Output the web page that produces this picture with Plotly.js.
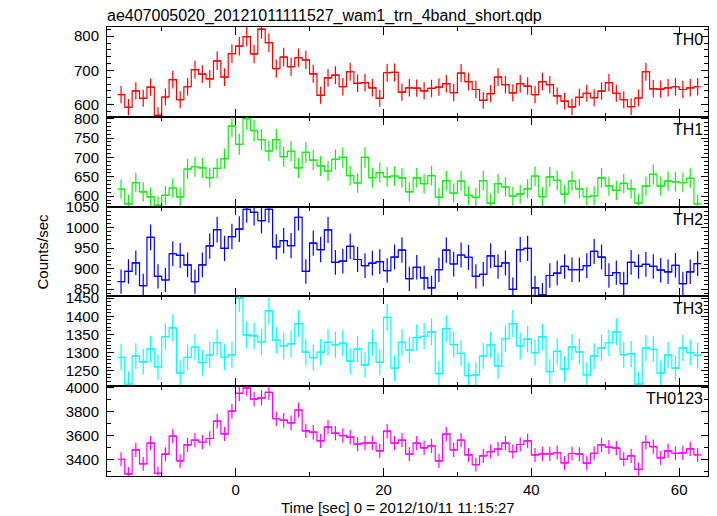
<!DOCTYPE html>
<html><head><meta charset="utf-8">
<script src="https://cdn.plot.ly/plotly-3.0.1.min.js"></script>
<style>html,body{margin:0;padding:0;background:#fff}#chart{width:717px;height:516px}</style>
</head><body><div id="chart"></div>
<script>
// bin centres (seconds, 1-s bins)
const timeSec = [-15.5,-14.5,-13.5,-12.5,-11.5,-10.5,-9.5,-8.5,-7.5,-6.5,-5.5,-4.5,-3.5,-2.5,-1.5,-0.5,
  0.5,1.5,2.5,3.5,4.5,5.5,6.5,7.5,8.5,9.5,10.5,11.5,12.5,13.5,14.5,15.5,16.5,17.5,18.5,19.5,20.5,21.5,
  22.5,23.5,24.5,25.5,26.5,27.5,28.5,29.5,30.5,31.5,32.5,33.5,34.5,35.5,36.5,37.5,38.5,39.5,40.5,41.5,
  42.5,43.5,44.5,45.5,46.5,47.5,48.5,49.5,50.5,51.5,52.5,53.5,54.5,55.5,56.5,57.5,58.5,59.5,60.5,61.5,62.5];

const th0 = [629,592,640,618,651,568,622,673,614,652,702,689,675,728,680,749,
  771,799,748,821,781,705,739,711,737,731,690,627,678,686,652,696,662,664,649,618,693,694,
  636,649,648,640,647,651,661,635,692,667,644,612,632,680,658,634,661,654,629,667,658,625,610,593,621,633,620,639,664,633,614,594,619,696,646,645,649,652,644,649,652];
const th1 = [618,580,635,611,598,576,602,621,598,670,676,673,648,672,697,781,
  734,800,769,746,717,746,702,716,673,713,693,678,665,695,700,653,634,700,648,661,650,652,
  647,611,647,632,653,597,640,608,639,602,597,640,582,632,624,600,605,619,652,599,650,641,605,639,619,599,601,647,626,615,633,619,582,626,656,626,639,637,635,646,580];
const th2 = [868,893,914,858,976,881,872,936,932,909,868,909,955,995,949,978,
  996,1044,1037,1017,1044,953,968,956,1025,893,962,946,994,915,918,954,922,907,913,917,895,928,
  945,875,903,877,853,897,945,911,933,927,881,886,931,905,914,849,946,949,853,836,883,889,905,897,897,907,942,928,883,890,863,915,905,910,905,896,892,908,863,892,912];
const th3 = [1287,1213,1290,1274,1310,1260,1344,1368,1243,1287,1315,1272,1293,1327,1287,1294,
  1450,1349,1346,1329,1415,1334,1318,1324,1380,1301,1286,1301,1328,1321,1326,1276,1310,1266,1327,1273,1397,1257,
  1328,1307,1341,1345,1357,1242,1366,1322,1298,1236,1238,1291,1321,1263,1338,1380,1318,1337,1300,1343,1247,1303,1254,1315,1302,1238,1290,1313,1327,1357,1294,1296,1213,1312,1309,1243,1293,1257,1313,1300,1292];
const th0123 = [3401,3278,3479,3362,3535,3284,3443,3594,3387,3521,3560,3543,3574,3719,3613,3803,
  3951,3995,3903,3914,3959,3739,3727,3705,3811,3638,3627,3555,3669,3619,3599,3585,3527,3535,3538,3471,3635,3535,
  3560,3443,3535,3496,3513,3387,3610,3479,3560,3437,3356,3429,3465,3485,3535,3465,3524,3555,3437,3446,3446,3457,3370,3449,3443,3368,3451,3521,3502,3493,3401,3429,3317,3541,3507,3412,3471,3451,3454,3488,3437];

const bandNames = ['TH0','TH1','TH2','TH3','TH0123'];
const bandSeries = [th0, th1, th2, th3, th0123];

// styling / axis config
const bandColors = ['#ff0000','#11ee11','#0000ff','#00ffff','#ff00ff'];
const yRanges = [[564,827],[573,805],[832,1051],[1207,1455],[3261,4011]];
const yDticks = [100,50,50,50,200];
const yMinor = [20,10,10,10,100];

const FONT = 'Liberation Sans, Arial, Helvetica, sans-serif';
const traces = [];
const layout = {
  width: 717, height: 516,
  margin: {l: 107, r: 9, t: 27, b: 40},
  paper_bgcolor: '#fff', plot_bgcolor: '#fff',
  showlegend: false,
  font: {family: FONT, size: 15, color: '#000'},
  title: {text: 'ae407005020_20121011111527_wam1_trn_4band_short.qdp',
          x: 0, xref: 'paper', xanchor: 'left', y: 1 - 15/516, yref: 'container', yanchor: 'middle',
          font: {family: FONT, size: 16, color: '#000'}},
  annotations: []
};

for (let i = 0; i < 5; i++) {
  const k = i + 1;
  const xa = k === 1 ? 'x' : 'x' + k;
  const ya = k === 1 ? 'y' : 'y' + k;
  traces.push({
    x: timeSec, y: bandSeries[i], xaxis: xa, yaxis: ya,
    type: 'scatter', mode: 'lines', name: bandNames[i],
    line: {shape: 'hvh', color: bandColors[i], width: 1.2},
    error_y: {type: 'sqrt', color: bandColors[i], thickness: 1.2, width: 0},
    error_x: {type: 'constant', value: 0.5, color: bandColors[i], thickness: 1.2, width: 0},
    hoverinfo: 'x+y'
  });
  const top = 1 - i * 0.2, bot = 1 - (i + 1) * 0.2;
  layout[k === 1 ? 'xaxis' : 'xaxis' + k] = {
    domain: [0, 1], anchor: ya, range: [-17.4, 63.9],
    tick0: 0, dtick: 20, ticks: 'inside', ticklen: 8, tickcolor: '#000', tickwidth: 1,
    minor: {dtick: 10, ticks: 'inside', ticklen: 4, tickcolor: '#000'},
    showline: true, linecolor: '#000', linewidth: 1, mirror: 'ticks',
    showgrid: false, zeroline: false,
    showticklabels: k === 5,
    tickfont: {family: FONT, size: 15, color: '#000'},
    matches: k === 1 ? undefined : 'x'
  };
  layout[k === 1 ? 'yaxis' : 'yaxis' + k] = {
    domain: [bot, top], anchor: xa, range: yRanges[i],
    tick0: 0, dtick: yDticks[i], ticks: 'inside', ticklen: 7, tickcolor: '#000', tickwidth: 1,
    minor: {dtick: yMinor[i], ticks: 'inside', ticklen: 4, tickcolor: '#000'},
    showline: true, linecolor: '#000', linewidth: 1, mirror: 'ticks',
    showgrid: false, zeroline: false, ticklabelstandoff: 4,
    tickfont: {family: FONT, size: 15, color: '#000'}
  };
  layout.annotations.push({
    text: bandNames[i], xref: 'paper', yref: 'paper', x: 1, y: top,
    xanchor: 'right', yanchor: 'top', xshift: -3, yshift: -2, showarrow: false,
    font: {family: FONT, size: 16, color: '#000'}
  });
}
layout.annotations.push({
  text: 'Counts/sec', xref: 'paper', yref: 'paper', x: (42 - 107) / 601, y: 0.5,
  xanchor: 'center', yanchor: 'middle', textangle: -90, showarrow: false,
  font: {family: FONT, size: 15, color: '#000'}
});
layout.annotations.push({
  text: 'Time [sec] 0 = 2012/10/11 11:15:27', xref: 'paper', yref: 'paper',
  x: (398 - 107) / 601, y: (476 - 507) / 449, xanchor: 'center', yanchor: 'middle', showarrow: false,
  font: {family: FONT, size: 15, color: '#000'}
});

Plotly.newPlot('chart', traces, layout, {staticPlot: true, displayModeBar: false});
</script></body></html>
